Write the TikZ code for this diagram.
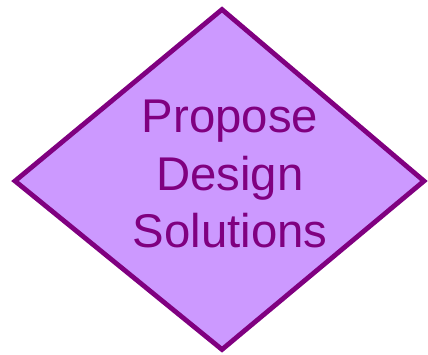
\documentclass[tikz,border=0pt]{standalone}
\usepackage{fontspec}
\setmainfont{Liberation Sans}
\definecolor{dfill}{HTML}{CC99FF}
\definecolor{dline}{HTML}{800080}
\tikzset{
  decision/.style={draw=dline, fill=dfill, line width=3.6pt, line join=miter},
  dlabel/.style={text=dline, align=center, font=\fontsize{35.5}{43}\selectfont}
}
\begin{document}
\begin{tikzpicture}[x=0.75pt,y=-0.75pt]
\useasboundingbox (0,0) rectangle (428,354);
\coordinate (top) at (222,9.5);
\coordinate (right) at (424,181);
\coordinate (bottom) at (222,349.5);
\coordinate (left) at (15,181);
\path[decision] (top) -- (right) -- (bottom) -- (left) -- cycle;
\node[dlabel] (t) at (230,174) {Propose\\Design\\Solutions};
\end{tikzpicture}
\end{document}
